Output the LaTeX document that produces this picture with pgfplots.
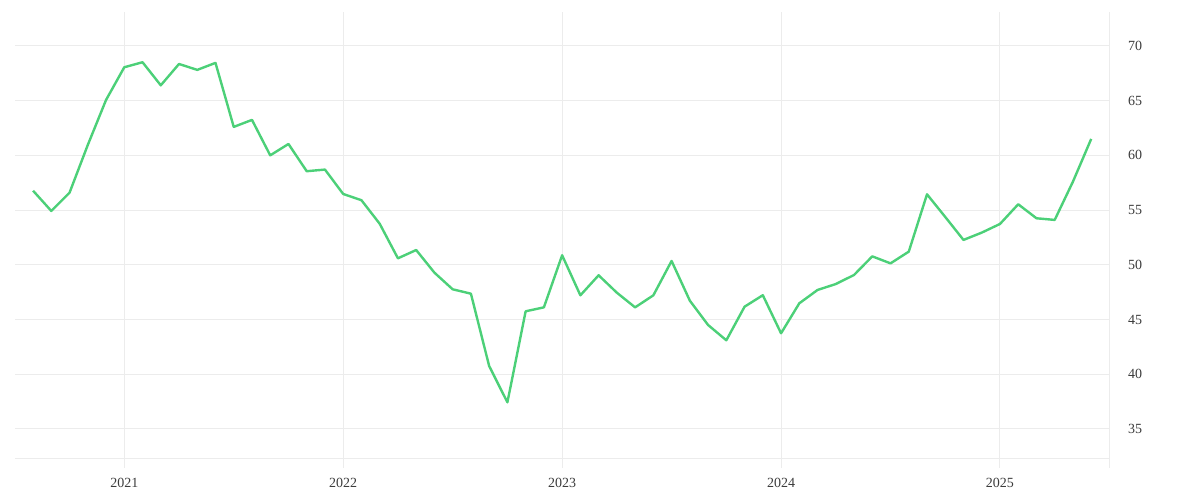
\documentclass[border=0pt]{standalone}
\usepackage{fontspec}
\setmainfont{Liberation Serif}
\usepackage{pgfplots}
\pgfplotsset{compat=1.18}
\definecolor{gridc}{RGB}{236,236,236}
\definecolor{linec}{RGB}{76,208,120}
\definecolor{labc}{RGB}{60,60,60}
\begin{document}
\begin{tikzpicture}
\path[use as bounding box] (-15bp,-32bp) rectangle (1185bp,468bp);
\begin{axis}[
  at={(0,0)}, anchor=south west,
  scale only axis, width=1095bp, height=456bp,
  xmin=-5.99, xmax=54.03, ymin=31.43, ymax=73.1,
  axis line style={draw=none},
  major tick length=0pt,
  grid=major,
  grid style={draw=gridc, line width=1bp},
  xtick={0,12,24,36,48},
  xticklabels={2021,2022,2023,2024,2025},
  ytick={35,40,45,50,55,60,65,70},
  yticklabel pos=right,
  /pgf/number format/assume math mode=true,
  tick label style={font=\fontsize{14bp}{16bp}\selectfont, text=labc},
  yticklabel style={anchor=west, inner sep=0pt, xshift=18bp},
  xticklabel style={anchor=north, inner sep=0pt, yshift=-9.5bp},
  extra x ticks={54.03}, extra x tick labels={},
  extra y ticks={32.31}, extra y tick labels={},
  extra tick style={grid=major, major tick length=0pt},
  clip=false,
]
\addplot[draw=linec, line width=2.4bp, line join=round, mark=none] coordinates {
(-5,56.77) (-4,54.92) (-3,56.59) (-2,60.95) (-1,65.06)
(0,68.05) (1,68.51) (2,66.4) (3,68.35) (4,67.81) (5,68.45)
(6,62.6) (7,63.24) (8,60.0) (9,61.04) (10,58.55) (11,58.7)
(12,56.47) (13,55.9) (14,53.75) (15,50.59) (16,51.35) (17,49.28)
(18,47.76) (19,47.36) (20,40.75) (21,37.43) (22,45.75) (23,46.11)
(24,50.87) (25,47.21) (26,49.04) (27,47.45) (28,46.11) (29,47.21)
(30,50.35) (31,46.72) (32,44.5) (33,43.1) (34,46.17) (35,47.22)
(36,43.74) (37,46.48) (38,47.7) (39,48.24) (40,49.07) (41,50.77)
(42,50.13) (43,51.2) (44,56.44) (45,54.37) (46,52.27) (47,52.94)
(48,53.73) (49,55.53) (50,54.25) (51,54.1) (52,57.6) (53,61.5)
};
\end{axis}
\end{tikzpicture}
\end{document}
